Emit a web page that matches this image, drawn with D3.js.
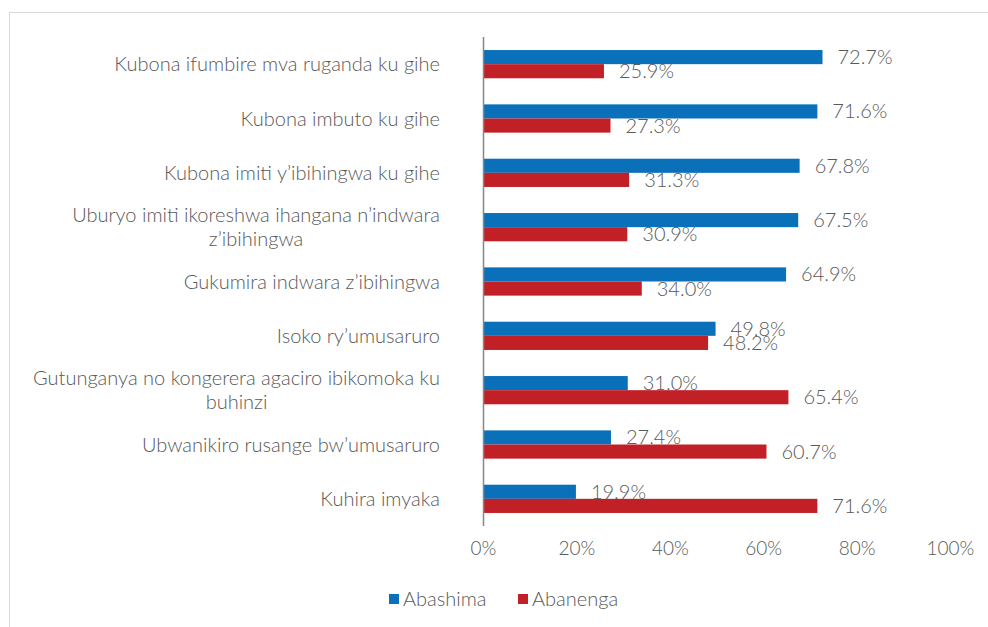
<!DOCTYPE html>
<html>
<head>
<meta charset="utf-8">
<script src="https://cdn.jsdelivr.net/npm/d3@7"></script>
<style>
  body { margin: 0; background: #fff; }
  text { font-family: Lato, "Open Sans", sans-serif; font-weight: 300; fill: #595959; }
</style>
</head>
<body>
<svg id="chart"></svg>
<script>
//*************** data ******************//
var categories = [
  "Kubona ifumbire mva ruganda ku gihe",
  "Kubona imbuto ku gihe",
  "Kubona imiti y\u2019ibihingwa ku gihe",
  "Uburyo imiti ikoreshwa ihangana n\u2019indwara z\u2019ibihingwa",
  "Gukumira indwara z\u2019ibihingwa",
  "Isoko ry\u2019umusaruro",
  "Gutunganya no kongerera agaciro ibikomoka ku buhinzi",
  "Ubwanikiro rusange bw\u2019umusaruro",
  "Kuhira imyaka"
];
var abashima = [72.7, 71.6, 67.8, 67.5, 64.9, 49.8, 31.0, 27.4, 19.9];
var abanenga = [25.9, 27.3, 31.3, 30.9, 34.0, 48.2, 65.4, 60.7, 71.6];
var seriesNames = ["Abashima", "Abanenga"];
var seriesColors = ["#0B70BA", "#C22027"];
var xTicks = [0, 20, 40, 60, 80, 100];

//*************** initialise parameters ******************//
var W = 988, H = 627;
var margin = {top: 37, right: 38, bottom: 101, left: 483};
var width = W - margin.left - margin.right,
    height = H - margin.top - margin.bottom;

var svg = d3.select("svg#chart")
  .attr("width", W)
  .attr("height", H);

// outer frame
svg.append("rect")
  .attr("x", 9.5).attr("y", 12.5)
  .attr("width", W + 10).attr("height", H + 10)
  .attr("fill", "none")
  .attr("stroke", "#d9d9d9")
  .attr("stroke-width", 1);

var plot = svg.append("g")
  .attr("transform", "translate(" + margin.left + "," + margin.top + ")");

// scales
var xScale = d3.scaleLinear().domain([0, 100]).range([0, width]);
var yScale = d3.scaleBand().domain(categories).range([0, height]).paddingInner(0.48).paddingOuter(0.24);
var ySub = d3.scaleBand().domain(seriesNames).range([0, yScale.bandwidth()]);

// bars
var data = categories.map(function(c, i) {
  return {cat: c, values: [abashima[i], abanenga[i]]};
});

var groups = plot.selectAll("g.group")
  .data(data)
  .enter().append("g")
  .attr("class", "group")
  .attr("transform", function(d) { return "translate(0," + yScale(d.cat) + ")"; });

groups.selectAll("rect")
  .data(function(d) { return d.values.map(function(v, j) { return {name: seriesNames[j], v: v, j: j}; }); })
  .enter().append("rect")
  .attr("x", 0)
  .attr("y", function(d) { return ySub(d.name); })
  .attr("width", function(d) { return xScale(d.v); })
  .attr("height", ySub.bandwidth())
  .attr("fill", function(d) { return seriesColors[d.j]; });

// value labels
groups.selectAll("text.val")
  .data(function(d) { return d.values.map(function(v, j) { return {name: seriesNames[j], v: v}; }); })
  .enter().append("text")
  .attr("class", "val")
  .attr("x", function(d) { return xScale(d.v) + 15; })
  .attr("y", function(d) { return ySub(d.name) + ySub.bandwidth() / 2 + 7; })
  .style("font-size", "20px")
  .text(function(d) { return d.v.toFixed(1) + "%"; });

// y axis line
plot.append("line")
  .attr("x1", 0.5).attr("x2", 0.5)
  .attr("y1", 0).attr("y2", height)
  .attr("stroke", "#868686")
  .attr("stroke-width", 1.5);

// x axis tick labels
var xAxis = d3.axisBottom(xScale)
  .tickValues(xTicks)
  .tickSize(0)
  .tickPadding(16)
  .tickFormat(function(d) { return d + "%"; });

var x_axis = plot.append("g")
  .attr("transform", "translate(0," + height + ")")
  .call(xAxis);
x_axis.select(".domain").remove();
x_axis.selectAll("text")
  .attr("fill", null)
  .style("font-family", null)
  .style("font-size", "19px");

// category labels (wrapped, right aligned, lines centered)
var labelRight = 440, maxLabelWidth = 430;
categories.forEach(function(c) {
  var yc = margin.top + yScale(c) + yScale.bandwidth() / 2;
  var t = svg.append("text").style("font-size", "20px");
  var words = c.split(" "), lines = [], line = [];
  words.forEach(function(w) {
    line.push(w);
    t.text(line.join(" "));
    if (t.node().getComputedTextLength() > maxLabelWidth && line.length > 1) {
      line.pop();
      lines.push(line.join(" "));
      line = [w];
    }
  });
  lines.push(line.join(" "));
  t.text(lines[0]);
  var w0 = t.node().getComputedTextLength();
  t.text(null);
  var lh = 24;
  var y0 = yc - (lines.length - 1) * lh / 2 + 7;
  lines.forEach(function(l, k) {
    t.append("tspan")
      .attr("x", labelRight - w0 / 2)
      .attr("y", y0 + k * lh)
      .attr("text-anchor", "middle")
      .text(l);
  });
});

// legend
var legend = svg.append("g").attr("transform", "translate(389,594)");
var legendX = [0, 129];
seriesNames.forEach(function(n, i) {
  var g = legend.append("g").attr("transform", "translate(" + legendX[i] + ",0)");
  g.append("rect").attr("width", 10).attr("height", 10).attr("fill", seriesColors[i]);
  g.append("text").attr("x", 14).attr("y", 12).style("font-size", "20px").text(n);
});
</script>
</body>
</html>
